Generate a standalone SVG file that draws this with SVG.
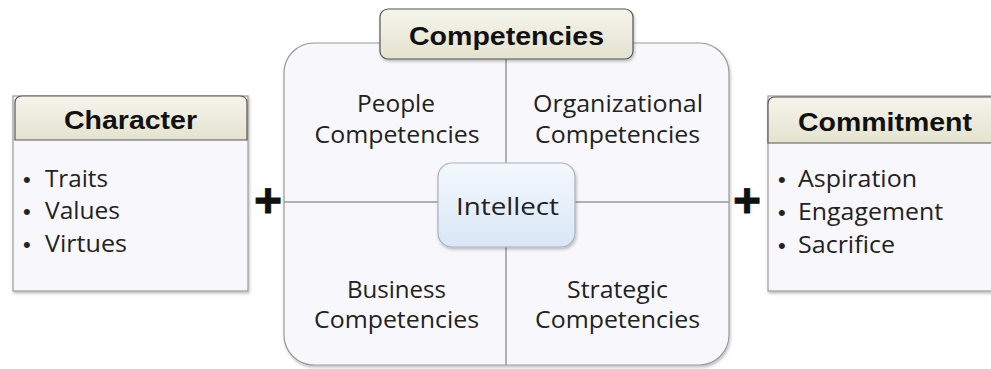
<svg xmlns="http://www.w3.org/2000/svg" width="991" height="369" viewBox="0 0 991 369">
  <defs>
    <linearGradient id="hdr" x1="0" y1="0" x2="0" y2="1">
      <stop offset="0" stop-color="#f6f5ec"/>
      <stop offset="1" stop-color="#e4e2cf"/>
    </linearGradient>
    <linearGradient id="intel" x1="0" y1="0" x2="0" y2="1">
      <stop offset="0" stop-color="#f4f8fd"/>
      <stop offset="1" stop-color="#d9e6f7"/>
    </linearGradient>
    <filter id="sh" x="-10%" y="-10%" width="120%" height="120%">
      <feDropShadow dx="1" dy="2" stdDeviation="1.5" flood-color="#000" flood-opacity="0.25"/>
    </filter>
  </defs>
  <style>
    .body { fill: #f8f7fb; stroke: #9a9a9a; stroke-width: 1.2; }
    .hdr { fill: url(#hdr); stroke: #555; stroke-width: 1.2; }
    .ht { font-family: "Liberation Sans", Arial, sans-serif; font-weight: bold; font-size: 25px; fill: #111; text-anchor: middle; }
    .t { font-family: "Open Sans", "Liberation Sans", sans-serif; font-size: 23.5px; fill: #222; }
    .b { font-family: "Liberation Sans", Arial, sans-serif; font-size: 22px; fill: #222; }
    .c { text-anchor: middle; }
    .plus { font-family: "Liberation Sans", Arial, sans-serif; font-weight: bold; font-size: 48px; fill: #111; text-anchor: middle; stroke: #111; stroke-width: 0.8; }
    .div { stroke: #9a9a9a; stroke-width: 1.5; fill: none; }
  </style>
  <rect width="991" height="369" fill="#ffffff"/>

  <g id="character">
    <rect class="body" x="13" y="96" width="235" height="195" filter="url(#sh)"/>
    <path class="hdr" d="M15,140 V103 Q15,96 22,96 H240 Q247,96 247,103 V140 Z"/>
    <text class="ht" x="130.5" y="129" textLength="133" lengthAdjust="spacingAndGlyphs">Character</text>
    <text class="b" x="23" y="187">•</text>
    <text class="b" x="23" y="219">•</text>
    <text class="b" x="23" y="252">•</text>
    <text class="t" x="45" y="187" textLength="63" lengthAdjust="spacingAndGlyphs">Traits</text>
    <text class="t" x="45" y="219" textLength="75" lengthAdjust="spacingAndGlyphs">Values</text>
    <text class="t" x="45" y="252" textLength="82" lengthAdjust="spacingAndGlyphs">Virtues</text>
  </g>

  <g id="competencies">
    <rect class="body" x="284" y="43" width="445" height="322" rx="30" ry="30" filter="url(#sh)"/>
    <g id="connectors">
      <line class="div" x1="506" y1="59" x2="506" y2="365"/>
      <line class="div" x1="284" y1="202" x2="729" y2="202"/>
    </g>
    <g id="header-competencies">
      <rect class="hdr" x="380" y="9" width="253" height="50" rx="8" ry="8" filter="url(#sh)"/>
      <text class="ht" x="506.5" y="45" textLength="195" lengthAdjust="spacingAndGlyphs">Competencies</text>
    </g>
    <g id="people">
      <text class="t c" x="396" y="112" textLength="78" lengthAdjust="spacingAndGlyphs">People</text>
      <text class="t c" x="397" y="143" textLength="165" lengthAdjust="spacingAndGlyphs">Competencies</text>
    </g>
    <g id="organizational">
      <text class="t c" x="618" y="112" textLength="170" lengthAdjust="spacingAndGlyphs">Organizational</text>
      <text class="t c" x="617.5" y="143" textLength="165" lengthAdjust="spacingAndGlyphs">Competencies</text>
    </g>
    <g id="business">
      <text class="t c" x="396.5" y="298" textLength="99" lengthAdjust="spacingAndGlyphs">Business</text>
      <text class="t c" x="396.5" y="328" textLength="165" lengthAdjust="spacingAndGlyphs">Competencies</text>
    </g>
    <g id="strategic">
      <text class="t c" x="617.5" y="298" textLength="101" lengthAdjust="spacingAndGlyphs">Strategic</text>
      <text class="t c" x="617.5" y="328" textLength="165" lengthAdjust="spacingAndGlyphs">Competencies</text>
    </g>
    <g id="intellect">
      <rect x="438" y="163" width="137" height="84" rx="14" ry="14" fill="url(#intel)" stroke="#a9b1bd" stroke-width="1.2" filter="url(#sh)"/>
      <text class="t c" x="507.5" y="215" font-size="25.5" textLength="103" lengthAdjust="spacingAndGlyphs">Intellect</text>
    </g>
  </g>

  <g id="plus-left">
    <text class="plus" x="268" y="217">+</text>
  </g>
  <g id="plus-right">
    <text class="plus" x="747" y="217">+</text>
  </g>

  <g id="commitment">
    <rect class="body" x="768" y="96" width="240" height="195" filter="url(#sh)"/>
    <path class="hdr" d="M768,143 V104 Q768,97 775,97 H1000 V143 Z"/>
    <text class="ht" x="885" y="131" textLength="174" lengthAdjust="spacingAndGlyphs">Commitment</text>
    <text class="b" x="778" y="187">•</text>
    <text class="b" x="778" y="220">•</text>
    <text class="b" x="778" y="253">•</text>
    <text class="t" x="798" y="187" textLength="119" lengthAdjust="spacingAndGlyphs">Aspiration</text>
    <text class="t" x="798" y="220" textLength="145" lengthAdjust="spacingAndGlyphs">Engagement</text>
    <text class="t" x="798" y="253" textLength="97" lengthAdjust="spacingAndGlyphs">Sacrifice</text>
  </g>
</svg>
